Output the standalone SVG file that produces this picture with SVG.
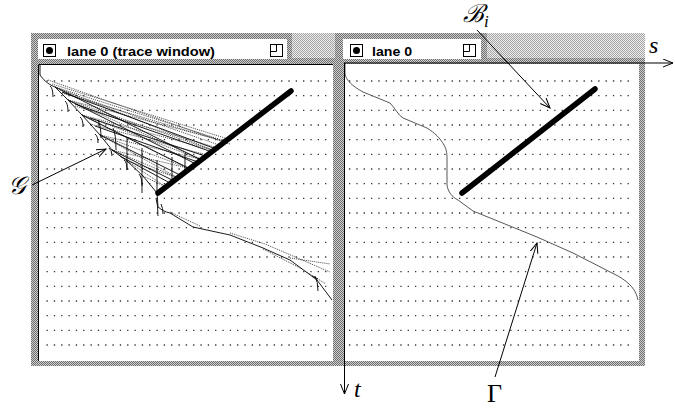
<svg xmlns="http://www.w3.org/2000/svg" width="675" height="408" viewBox="0 0 675 408">
<style>
.lbl{font-family:"Liberation Serif","DejaVu Serif",serif;font-style:italic;fill:#000}
.greek{font-family:"Liberation Serif","DejaVu Serif",serif;fill:#000}
.ttl{font-family:"Liberation Sans","DejaVu Sans",sans-serif;font-weight:bold;font-size:12.5px;fill:#000}
.canvas{fill:#fff}
.edge{stroke:#000;stroke-width:1;fill:none}
.btn{fill:#fff;stroke:#000;stroke-width:1}
.bar{stroke:#000;stroke-width:5.5;stroke-linecap:round;fill:none}
.mesh{stroke:#444;stroke-width:1;stroke-dasharray:1 1;fill:none}
.thin{stroke:#000;stroke-width:0.9;fill:none}
.conn{stroke:#000;stroke-width:1;fill:none;marker-end:url(#arr)}
.dotrow{stroke:#333;stroke-width:1.3;stroke-dasharray:1.3 6.03;fill:none}
</style>
<defs>
<pattern id="pWin" width="2" height="2" patternUnits="userSpaceOnUse"><rect width="2" height="2" fill="#cfcfcf"/><rect width="1" height="1" fill="#6e6e6e"/><rect x="1" y="1" width="1" height="1" fill="#6e6e6e"/></pattern>
<pattern id="pDesk" width="2" height="2" patternUnits="userSpaceOnUse"><rect width="2" height="2" fill="#eeeeee"/><rect width="1" height="1" fill="#a4a4a4"/><rect x="1" y="1" width="1" height="1" fill="#a4a4a4"/></pattern>
<marker id="arr" markerWidth="12" markerHeight="10" refX="10" refY="4" orient="auto" markerUnits="userSpaceOnUse"><path d="M0,0 L10,4 L0,8" fill="none" stroke="#000" stroke-width="1"/></marker>
</defs>
<rect width="675" height="408" fill="#fff"/>
<rect id="desktop" x="31" y="33" width="614" height="30" fill="url(#pDesk)"/>

<g id="window-left">
<rect x="31" y="33" width="261" height="27" fill="url(#pWin)"/>
<rect x="31" y="58" width="307" height="308" fill="url(#pWin)"/>
<rect x="38" y="39" width="249" height="20" fill="#fff"/>
<rect class="btn" x="43.5" y="44.5" width="12" height="12"/>
<circle cx="49.5" cy="50.5" r="3.5" fill="#000"/>
<text class="ttl" x="67" y="56" textLength="148" lengthAdjust="spacingAndGlyphs">lane 0 (trace window)</text>
<rect class="btn" x="270.5" y="44.5" width="12" height="12"/>
<path class="edge" d="M276.5,44.5 V51.5 H270.5"/>
<rect class="canvas" x="38" y="64" width="295" height="297"/>
<path class="edge" d="M38.5,361 V64.5 H333"/>
<g id="dots-left">
<path class="dotrow" d="M46.5,81 H330 M46.5,95.67 H330 M46.5,110.33 H330 M46.5,125 H330 M46.5,139.67 H330 M46.5,154.33 H330 M46.5,169 H330 M46.5,183.67 H330 M46.5,198.33 H330 M46.5,213 H330 M46.5,227.67 H330 M46.5,242.33 H330 M46.5,257 H330 M46.5,271.67 H330 M46.5,286.33 H330 M46.5,301 H330 M46.5,315.67 H330 M46.5,330.33 H330 M46.5,345 H330"/>
</g>
<g id="trace-mesh">
<path class="mesh" d="M48,80 L230,144 M55,87 L225.5,141.2 M55,87 L213.6,150.4 M68,100 L225.5,141.2 M68,100 L213.6,150.4 M68,100 L201.7,159.5 M82,115 L213.6,150.4 M82,115 L201.7,159.5 M82,115 L189.8,168.6 M100,135 L201.7,159.5 M100,135 L189.8,168.6 M100,135 L177.9,177.8 M112,150 L189.8,168.6 M112,150 L177.9,177.8 M127,161 L177.9,177.8 M127,161 L165.9,186.9 M143,176 L165.9,186.9 M60,90 L222,146 M75,106 L218,148 M52,84 L228,139 M62,93 L228,143 M90,124 L207,155"/>
<path class="thin" d="M55,87 L201,160 M68,100 L196,164 M82,115 L190,169 M100,135 L181,175.5 M112,150 L174,181 M90,118 L205,156 M75,104 L212,152 M62,92 L216,149 M95,126 L198,162 M120,156 L170,183"/>
<path class="thin" d="M127,137 V170 M142,148 V193 M157,160 V193 M172,157 V183 M185,153 V170 M113,128 Q116,134 116,150 M98,120 Q101,126 101,138"/>
<path class="thin" d="M50,86 Q53,88 53,97 M65,101 Q68,103 68,112 M80,117 Q83,119 83,127 M95,134 Q98,136 98,143 M109,148 Q112,150 112,156 M124,160 Q127,162 127,170 M139,174 Q142,177 142,186"/>
<path class="thin" d="M40,65 L40,75 C45,82 50,85 55,87 L68,100 L82,115 L100,135 L112,150 L127,161 L143,176 L157,193"/>
<path class="thin" d="M157,193 L158,207 C162,210 165,212 170,213 L193,227 L230,235 L263,248 L290,260 L317,280 L332,300"/>
<path class="mesh" d="M170,212 L200,226 M230,233 L265,244 L330,272 M263,249 L300,268 L326,284 M290,258 L330,264"/>
<path class="thin" d="M156,198 Q158,205 158,216 M161,204 Q163,208 163,214 M315,276 Q318,282 318,291 M312,276 L318,279"/>
</g>
<path class="bar" d="M158,193 L291,91"/>
</g>

<g id="window-right">
<rect x="335" y="33" width="152" height="27" fill="url(#pWin)"/>
<rect x="335" y="58" width="310" height="308" fill="url(#pWin)"/>
<rect x="343" y="39" width="138" height="20" fill="#fff"/>
<rect class="btn" x="350.5" y="44.5" width="12" height="12"/>
<circle cx="356.5" cy="50.5" r="3.5" fill="#000"/>
<text class="ttl" x="372" y="56" textLength="40" lengthAdjust="spacingAndGlyphs">lane 0</text>
<rect class="btn" x="463.5" y="44.5" width="12" height="12"/>
<path class="edge" d="M469.5,44.5 V51.5 H463.5"/>
<rect class="canvas" x="344" y="64" width="295" height="297"/>
<g id="dots-right">
<path class="dotrow" d="M349,81 H634 M349,95.67 H634 M349,110.33 H634 M349,125 H634 M349,139.67 H634 M349,154.33 H634 M349,169 H634 M349,183.67 H634 M349,198.33 H634 M349,213 H634 M349,227.67 H634 M349,242.33 H634 M349,257 H634 M349,271.67 H634 M349,286.33 H634 M349,301 H634 M349,315.67 H634 M349,330.33 H634 M349,345 H634"/>
</g>
<path id="gamma-curve" d="M345,64 L345,74 C346,80 352,86 363,92 L390,103 C395,108 398,115 403,118 L427,128 C435,133 440,138 444,145 C447,150 447,155 447,160 L447,185 C448,192 452,197 458,200 L473,211 L537,237 L573,253 L618,276 C630,283 636,290 638,300" fill="none" stroke="#444" stroke-width="0.9"/>
<path class="bar" d="M462,193 L595,89"/>
</g>

<g id="axes">
<path class="conn" d="M344,63 H673"/>
<path class="conn" d="M344.5,63 V394"/>
</g>

<g id="connectors">
<path class="conn" d="M32,185 L106,149"/>
<path class="conn" d="M477,30 L550,108"/>
<path class="conn" d="M495,377 L537,243"/>
</g>

<g id="labels">
<text class="lbl" x="649" y="53" font-size="24">s</text>
<text class="lbl" x="354" y="397" font-size="24">t</text>
<text class="greek" x="487" y="402" font-size="26">Γ</text>
<text class="lbl" x="463" y="22" font-size="25">ℬ<tspan font-size="17" dy="5">i</tspan></text>
<text class="lbl" x="8" y="194" font-size="25">𝒢</text>
</g>
</svg>
